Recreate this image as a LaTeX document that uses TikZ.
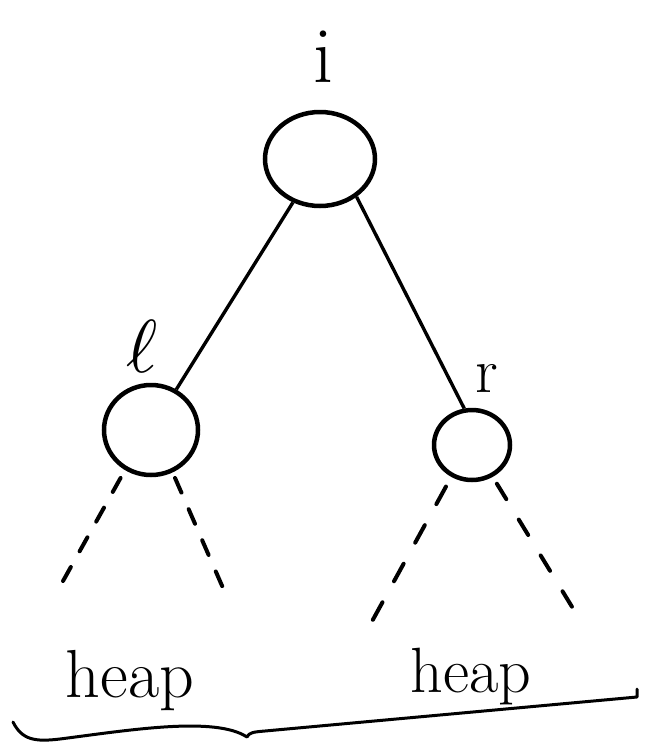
\documentclass[tikz,border=0pt]{standalone}
\usetikzlibrary{shapes.geometric}
\begin{document}
\begin{tikzpicture}[x=1pt,y=-1pt,
  treenode/.style={ellipse,draw,line width=4.5pt,inner sep=0pt},
  treeedge/.style={line width=3.4pt},
  dashline/.style={line width=4pt,dash pattern=on 16pt off 18pt,line cap=round},
  lbl/.style={inner sep=0pt,anchor=base}]
\useasboundingbox (0,0) rectangle (654,750);
% nodes
\node[treenode,minimum width=110pt,minimum height=94pt] (root) at (320,159) {};
\node[treenode,minimum width=94pt,minimum height=90pt] (lt) at (151,430) {};
\node[treenode,minimum width=76pt,minimum height=70pt] (rt) at (472,445) {};
% labels
\node[lbl] (ilbl) at (323,82) {\fontsize{80}{80}\selectfont i};
\node[lbl,scale=7.5] (llbl) at (142,372) {$\ell$};
\node[lbl] (rlbl) at (487,392) {\fontsize{64}{64}\selectfont r};
\node[lbl] (heapl) at (130,697) {\fontsize{68}{68}\selectfont heap};
\node[lbl] (heapr) at (471,692) {\fontsize{64}{64}\selectfont heap};
% edges
\draw[treeedge] (root) -- (lt);
\draw[treeedge] (root.-46) -- (rt.102);
% dashed subtrees
\coordinate (lla) at (58,590);
\coordinate (llb) at (223,588);
\coordinate (rra) at (370,625);
\coordinate (rrb) at (577,615);
\draw[dashline,shorten <=9pt] (lt.237) -- (lla);
\draw[dashline,shorten <=6pt] (lt.-63) -- (llb);
\draw[dashline,shorten <=11pt,dash pattern=on 20pt off 24pt] (rt.237) -- (rra);
\draw[dashline,shorten <=8pt,dash pattern=on 18pt off 24pt] (rt.-57) -- (rrb);
% brace
\draw[line width=3pt,line cap=round,line join=round]
  (13,722) .. controls (22,740) and (35,742) .. (60,739)
  .. controls (130,730) and (215,716) .. (247,737)
  .. controls (249,733) and (252,732) .. (265,731)
  -- (637,697) -- (637,689);
\end{tikzpicture}
\end{document}
